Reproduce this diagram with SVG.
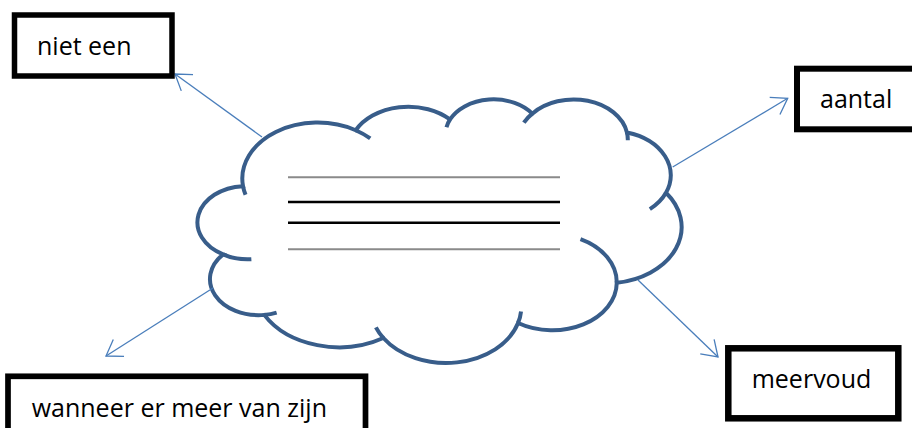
<svg xmlns="http://www.w3.org/2000/svg" width="912" height="428" viewBox="0 0 912 428">
  <style>
    .box { fill: #ffffff; stroke: #000000; }
    .lbl { font-family: "Open Sans", "Liberation Sans", sans-serif; font-size: 25px; fill: #000000; }
    .cloud { fill: none; stroke: #385D8A; stroke-width: 4; vector-effect: non-scaling-stroke; stroke-linecap: butt; }
    .conn { fill: none; stroke: #4A7EBB; stroke-width: 1.3; }
    .gray { stroke: #8a8a8a; stroke-width: 2; }
    .blk { stroke: #000000; stroke-width: 2.6; }
  </style>
  <defs>
    <marker id="arr" markerUnits="userSpaceOnUse" viewBox="-17 -12 19 24" markerWidth="19" markerHeight="24" refX="0" refY="0" orient="auto">
      <path d="M-15,-10 L0,0 L-15,10" fill="none" stroke="#4A7EBB" stroke-width="1.3"/>
    </marker>
  </defs>
  <rect width="912" height="428" fill="#ffffff"/>

  <g id="cloud">
    <g transform="translate(199.5 98.5) scale(0.011155 0.0061)">
      <path class="cloud" style="fill:#ffffff" d="M3900 14370 A6753 9190 0 0 1 14005.8 5202.7 A5333 7267 0 0 1 22456.8 3430.9 A4365 5945 0 0 1 29834.3 2480.3 A4857 6595 0 0 1 38319.4 5575.6 A5333 7273 0 0 1 41819.9 15459.3 A6775 9220 0 0 1 37405.5 30201.7 A5785 7867 0 0 1 28557 36811.8 A6752 9215 0 0 1 16482.8 39266.4 A7720 10543 0 0 1 5806.2 35471.4 A4360 5918 0 0 1 2114.7 25550 A4345 5945 0 0 1 3900 14370 Z"/>
      <path class="cloud" d="M4127 15789 A6753 9190 0 0 1 3900 14370 M14005.8 5202.7 A6753 9190 0 0 1 15304.9 6550.6 M22141 4720 A4365 5945 0 0 1 22456.8 3430.9 M29078 3952 A4857 6595 0 0 1 29834.3 2480.3 M38319.4 5575.6 A4857 6595 0 0 1 38395.8 6839.2 M41819.9 15459.3 A5333 7273 0 0 1 40370.8 18136.7 M34154 23066 A5785 7867 0 0 1 37405.5 30201.7 M28823.5 34903 A6752 9215 0 0 1 28557 36811.8 M16482.8 39266.4 A6752 9215 0 0 1 15813.1 37522.1 M6914.7 35089.9 A4360 5918 0 0 1 5806.2 35471.4 M4648.1 26347.2 A4345 5945 0 0 1 2114.7 25550"/>
    </g>
    <line class="gray" x1="288" y1="177.3" x2="560" y2="177.3"/>
    <line class="blk" x1="288" y1="202" x2="560" y2="202"/>
    <line class="blk" x1="288" y1="222.7" x2="560" y2="222.7"/>
    <line class="gray" x1="288" y1="249.3" x2="560" y2="249.3"/>
  </g>

  <g id="connectors">
    <line class="conn" x1="262" y1="137" x2="175" y2="74" marker-end="url(#arr)"/>
    <line class="conn" x1="672.7" y1="167" x2="787.7" y2="98.3" marker-end="url(#arr)"/>
    <line class="conn" x1="213" y1="288" x2="106" y2="356" marker-end="url(#arr)"/>
    <line class="conn" x1="638" y1="280" x2="718" y2="357" marker-end="url(#arr)"/>
  </g>

  <g id="node-niet-een">
    <rect class="box" x="14.5" y="15" width="157.5" height="61" stroke-width="5.5"/>
    <text class="lbl" x="37" y="55">niet een</text>
  </g>

  <g id="node-aantal">
    <rect class="box" x="797" y="68.7" width="200" height="60.6" stroke-width="6"/>
    <text class="lbl" x="820" y="108.3">aantal</text>
  </g>

  <g id="node-meervoud">
    <rect class="box" x="728.3" y="348.3" width="170" height="70" stroke-width="6.5"/>
    <text class="lbl" x="751.7" y="388.3">meervoud</text>
  </g>

  <g id="node-wanneer">
    <rect class="box" x="8" y="376.3" width="357.5" height="62" stroke-width="5.7"/>
    <text class="lbl" x="31.7" y="416.7">wanneer er meer van zijn</text>
  </g>
</svg>
